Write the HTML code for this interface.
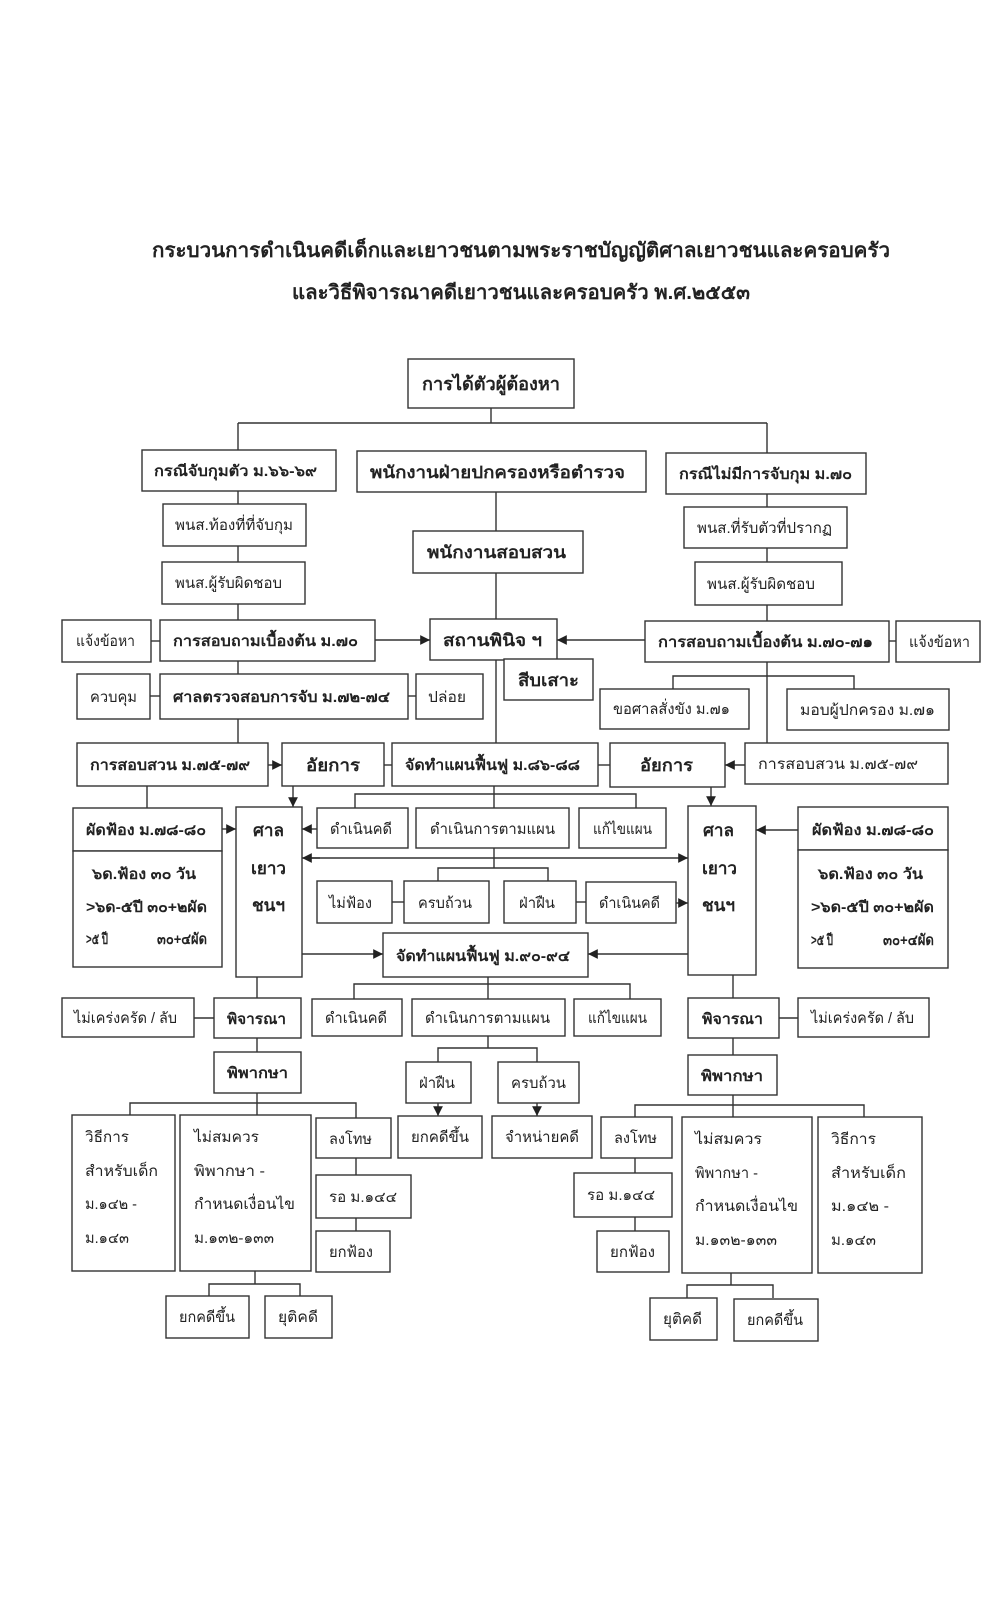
<!DOCTYPE html>
<html><head><meta charset="utf-8"><style>
html,body{margin:0;padding:0;background:#fff;}
svg{display:block;}
text{font-family:"Liberation Sans","DejaVu Sans",sans-serif;fill:#222;}
.b{font-weight:bold;}
rect{fill:#fff;stroke:#333;stroke-width:1.4;}
line,path.l{stroke:#333;stroke-width:1.4;fill:none;}
</style></head><body>
<svg width="1000" height="1620" viewBox="0 0 1000 1620" xmlns="http://www.w3.org/2000/svg">
<defs><marker id="a" viewBox="0 0 10 10" refX="10" refY="5" markerWidth="7" markerHeight="7" orient="auto"><path d="M0,0 L10,5 L0,10 z" fill="#222"/></marker></defs>
<rect x="0" y="0" width="1000" height="1620" style="stroke:none;fill:#fff"/>
<text class="b" x="152" y="257" font-size="20" textLength="738" lengthAdjust="spacingAndGlyphs">กระบวนการดำเนินคดีเด็กและเยาวชนตามพระราชบัญญัติศาลเยาวชนและครอบครัว</text>
<text class="b" x="292" y="299" font-size="20" textLength="458" lengthAdjust="spacingAndGlyphs">และวิธีพิจารณาคดีเยาวชนและครอบครัว พ.ศ.๒๕๕๓</text>

<!-- connectors -->
<g>
<line x1="491" y1="408" x2="491" y2="423"/><line x1="238" y1="423" x2="767" y2="423"/>
<line x1="238" y1="423" x2="238" y2="450"/><line x1="767" y1="423" x2="767" y2="453"/>
<line x1="496" y1="492" x2="496" y2="743"/>
<line x1="238" y1="491" x2="238" y2="743"/>
<line x1="767" y1="494" x2="767" y2="743"/>
<path class="l" d="M673,689 V676 H854 V689"/>
<line x1="151" y1="641" x2="160" y2="641"/><line x1="150" y1="696" x2="160" y2="696"/>
<line x1="408" y1="696" x2="416" y2="696"/><line x1="889" y1="641" x2="896" y2="641"/>
<line x1="375" y1="640" x2="430" y2="640" marker-end="url(#a)"/>
<line x1="645" y1="640" x2="557" y2="640" marker-end="url(#a)"/>
<line x1="268" y1="765" x2="282" y2="765" marker-end="url(#a)"/>
<line x1="384" y1="765" x2="392" y2="765"/><line x1="598" y1="765" x2="610" y2="765"/>
<line x1="745" y1="765" x2="725" y2="765" marker-end="url(#a)"/>
<line x1="147" y1="786" x2="147" y2="809"/>
<line x1="293" y1="786" x2="293" y2="807" marker-end="url(#a)"/>
<line x1="711" y1="787" x2="711" y2="806" marker-end="url(#a)"/>
<line x1="222" y1="829" x2="236" y2="829" marker-end="url(#a)"/>
<line x1="317" y1="829" x2="302" y2="829" marker-end="url(#a)"/>
<line x1="798" y1="830" x2="756" y2="830" marker-end="url(#a)"/>
<line x1="494" y1="786" x2="494" y2="868"/>
<path class="l" d="M355,808 V794 H636 V808"/>
<line x1="310" y1="858" x2="688" y2="858" marker-end="url(#a)"/>
<line x1="320" y1="858" x2="302" y2="858" marker-end="url(#a)"/>
<path class="l" d="M438,881 V868 H548 V881"/>
<line x1="392" y1="902" x2="404" y2="902"/><line x1="576" y1="902" x2="586" y2="902"/>
<line x1="676" y1="903" x2="688" y2="903" marker-end="url(#a)"/>
<line x1="302" y1="954" x2="383" y2="954" marker-end="url(#a)"/>
<line x1="688" y1="954" x2="588" y2="954" marker-end="url(#a)"/>
<line x1="488" y1="977" x2="488" y2="999"/>
<path class="l" d="M354,999 V984 H630 V999"/>
<line x1="257" y1="977" x2="257" y2="1052"/>
<line x1="733" y1="975" x2="733" y2="1055"/>
<line x1="194" y1="1018" x2="214" y2="1018"/><line x1="779" y1="1018" x2="798" y2="1018"/>
<line x1="257" y1="1093" x2="257" y2="1115"/>
<path class="l" d="M130,1115 V1103 H356 V1231"/>
<line x1="255" y1="1271" x2="255" y2="1284"/>
<path class="l" d="M209,1296 V1284 H300 V1296"/>
<line x1="488" y1="1036" x2="488" y2="1048"/>
<path class="l" d="M438,1062 V1048 H537 V1062"/>
<line x1="438" y1="1103" x2="438" y2="1116" marker-end="url(#a)"/>
<line x1="537" y1="1103" x2="537" y2="1116" marker-end="url(#a)"/>
<line x1="733" y1="1095" x2="733" y2="1117"/>
<path class="l" d="M864,1117 V1105 H635 V1231"/>
<line x1="731" y1="1273" x2="731" y2="1285"/>
<path class="l" d="M687,1298 V1285 H773 V1298"/>
</g>

<!-- boxes -->
<g>
<rect x="408" y="359" width="166" height="49"/>
<rect x="142" y="450" width="194" height="41"/>
<rect x="357" y="451" width="289" height="41"/>
<rect x="666" y="453" width="200" height="41"/>
<rect x="163" y="504" width="143" height="42"/>
<rect x="162" y="562" width="143" height="42"/>
<rect x="413" y="531" width="170" height="42"/>
<rect x="684" y="507" width="163" height="41"/>
<rect x="695" y="562" width="147" height="43"/>
<rect x="62" y="620" width="89" height="42"/>
<rect x="160" y="620" width="215" height="41"/>
<rect x="430" y="619" width="127" height="41"/>
<rect x="504" y="659" width="89" height="41"/>
<rect x="645" y="621" width="244" height="41"/>
<rect x="896" y="621" width="84" height="41"/>
<rect x="77" y="674" width="73" height="45"/>
<rect x="160" y="674" width="248" height="45"/>
<rect x="416" y="674" width="67" height="45"/>
<rect x="600" y="689" width="149" height="40"/>
<rect x="787" y="689" width="162" height="41"/>
<rect x="77" y="743" width="191" height="43"/>
<rect x="282" y="743" width="102" height="43"/>
<rect x="392" y="743" width="206" height="43"/>
<rect x="610" y="743" width="115" height="44"/>
<rect x="745" y="743" width="203" height="41"/>
<rect x="73" y="808" width="149" height="43"/>
<rect x="73" y="851" width="149" height="116"/>
<rect x="236" y="807" width="66" height="170"/>
<rect x="317" y="808" width="91" height="40"/>
<rect x="416" y="808" width="153" height="40"/>
<rect x="579" y="808" width="87" height="40"/>
<rect x="688" y="806" width="68" height="169"/>
<rect x="798" y="807" width="150" height="43"/>
<rect x="798" y="850" width="150" height="118"/>
<rect x="317" y="881" width="75" height="42"/>
<rect x="404" y="881" width="85" height="42"/>
<rect x="504" y="881" width="72" height="42"/>
<rect x="586" y="882" width="90" height="41"/>
<rect x="383" y="933" width="205" height="44"/>
<rect x="62" y="998" width="132" height="39"/>
<rect x="214" y="998" width="87" height="40"/>
<rect x="312" y="999" width="90" height="37"/>
<rect x="412" y="999" width="153" height="37"/>
<rect x="574" y="999" width="87" height="37"/>
<rect x="688" y="998" width="91" height="40"/>
<rect x="798" y="998" width="131" height="39"/>
<rect x="214" y="1052" width="87" height="41"/>
<rect x="688" y="1055" width="89" height="40"/>
<rect x="406" y="1062" width="65" height="41"/>
<rect x="498" y="1062" width="81" height="41"/>
<rect x="398" y="1116" width="84" height="42"/>
<rect x="492" y="1116" width="100" height="42"/>
<rect x="72" y="1115" width="103" height="156"/>
<rect x="180" y="1115" width="131" height="156"/>
<rect x="316" y="1118" width="75" height="40"/>
<rect x="316" y="1175" width="95" height="43"/>
<rect x="316" y="1231" width="74" height="41"/>
<rect x="166" y="1296" width="83" height="42"/>
<rect x="265" y="1296" width="67" height="42"/>
<rect x="601" y="1117" width="71" height="41"/>
<rect x="574" y="1173" width="98" height="44"/>
<rect x="597" y="1231" width="72" height="41"/>
<rect x="682" y="1117" width="130" height="156"/>
<rect x="818" y="1117" width="104" height="156"/>
<rect x="650" y="1298" width="67" height="42"/>
<rect x="734" y="1299" width="84" height="42"/>
</g>

<!-- labels -->
<g font-size="15">
<text class="b" x="422" y="390" font-size="18" textLength="138" lengthAdjust="spacingAndGlyphs">การได้ตัวผู้ต้องหา</text>
<text class="b" x="154" y="476" textLength="163" lengthAdjust="spacingAndGlyphs">กรณีจับกุมตัว ม.๖๖-๖๙</text>
<text class="b" x="370" y="478" font-size="17" textLength="255" lengthAdjust="spacingAndGlyphs">พนักงานฝ่ายปกครองหรือตำรวจ</text>
<text class="b" x="679" y="479" textLength="173" lengthAdjust="spacingAndGlyphs">กรณีไม่มีการจับกุม ม.๗๐</text>
<text x="175" y="530" textLength="118" lengthAdjust="spacingAndGlyphs">พนส.ท้องที่ที่จับกุม</text>
<text x="175" y="588" textLength="107" lengthAdjust="spacingAndGlyphs">พนส.ผู้รับผิดชอบ</text>
<text class="b" x="427" y="558" font-size="17" textLength="139" lengthAdjust="spacingAndGlyphs">พนักงานสอบสวน</text>
<text x="697" y="533" textLength="135" lengthAdjust="spacingAndGlyphs">พนส.ที่รับตัวที่ปรากฏ</text>
<text x="707" y="589" textLength="108" lengthAdjust="spacingAndGlyphs">พนส.ผู้รับผิดชอบ</text>
<text x="76" y="646" textLength="59" lengthAdjust="spacingAndGlyphs">แจ้งข้อหา</text>
<text class="b" x="173" y="646" textLength="185" lengthAdjust="spacingAndGlyphs">การสอบถามเบื้องต้น ม.๗๐</text>
<text class="b" x="443" y="646" font-size="17" textLength="99" lengthAdjust="spacingAndGlyphs">สถานพินิจ ฯ</text>
<text class="b" x="518" y="686" font-size="17" textLength="61" lengthAdjust="spacingAndGlyphs">สีบเสาะ</text>
<text class="b" x="658" y="647" textLength="215" lengthAdjust="spacingAndGlyphs">การสอบถามเบื้องต้น ม.๗๐-๗๑</text>
<text x="909" y="647" textLength="61" lengthAdjust="spacingAndGlyphs">แจ้งข้อหา</text>
<text x="90" y="702" textLength="47" lengthAdjust="spacingAndGlyphs">ควบคุม</text>
<text class="b" x="173" y="702" textLength="217" lengthAdjust="spacingAndGlyphs">ศาลตรวจสอบการจับ ม.๗๒-๗๔</text>
<text x="428" y="702" textLength="38" lengthAdjust="spacingAndGlyphs">ปล่อย</text>
<text x="613" y="714" textLength="117" lengthAdjust="spacingAndGlyphs">ขอศาลสั่งขัง ม.๗๑</text>
<text x="800" y="715" textLength="135" lengthAdjust="spacingAndGlyphs">มอบผู้ปกครอง ม.๗๑</text>
<text class="b" x="90" y="770" textLength="160" lengthAdjust="spacingAndGlyphs">การสอบสวน ม.๗๕-๗๙</text>
<text class="b" x="306" y="771" font-size="17" textLength="54" lengthAdjust="spacingAndGlyphs">อัยการ</text>
<text class="b" x="405" y="770" textLength="175" lengthAdjust="spacingAndGlyphs">จัดทำแผนฟื้นฟู ม.๘๖-๘๘</text>
<text class="b" x="640" y="771" font-size="17" textLength="53" lengthAdjust="spacingAndGlyphs">อัยการ</text>
<text x="758" y="769" textLength="160" lengthAdjust="spacingAndGlyphs">การสอบสวน ม.๗๕-๗๙</text>
<text class="b" x="86" y="835" textLength="120" lengthAdjust="spacingAndGlyphs">ผัดฟ้อง ม.๗๘-๘๐</text>
<text class="b" x="92" y="879" textLength="104" lengthAdjust="spacingAndGlyphs">๖ด.ฟ้อง ๓๐ วัน</text>
<text class="b" x="86" y="912" textLength="121" lengthAdjust="spacingAndGlyphs">&gt;๖ด-๕ปี ๓๐+๒ผัด</text>
<text class="b" x="86" y="944" textLength="22" lengthAdjust="spacingAndGlyphs">&gt;๕ ปี</text>
<text class="b" x="157" y="944" textLength="50" lengthAdjust="spacingAndGlyphs">๓๐+๔ผัด</text>
<text class="b" x="253" y="836" font-size="17" textLength="31" lengthAdjust="spacingAndGlyphs">ศาล</text>
<text class="b" x="251" y="874" font-size="17" textLength="35" lengthAdjust="spacingAndGlyphs">เยาว</text>
<text class="b" x="252" y="911" font-size="17" textLength="33" lengthAdjust="spacingAndGlyphs">ชนฯ</text>
<text x="330" y="834" textLength="62" lengthAdjust="spacingAndGlyphs">ดำเนินคดี</text>
<text x="430" y="834" textLength="125" lengthAdjust="spacingAndGlyphs">ดำเนินการตามแผน</text>
<text x="593" y="834" textLength="59" lengthAdjust="spacingAndGlyphs">แก้ไขแผน</text>
<text class="b" x="703" y="836" font-size="17" textLength="31" lengthAdjust="spacingAndGlyphs">ศาล</text>
<text class="b" x="702" y="874" font-size="17" textLength="35" lengthAdjust="spacingAndGlyphs">เยาว</text>
<text class="b" x="702" y="911" font-size="17" textLength="33" lengthAdjust="spacingAndGlyphs">ชนฯ</text>
<text class="b" x="812" y="835" textLength="122" lengthAdjust="spacingAndGlyphs">ผัดฟ้อง ม.๗๘-๘๐</text>
<text class="b" x="818" y="879" textLength="105" lengthAdjust="spacingAndGlyphs">๖ด.ฟ้อง ๓๐ วัน</text>
<text class="b" x="811" y="912" textLength="123" lengthAdjust="spacingAndGlyphs">&gt;๖ด-๕ปี ๓๐+๒ผัด</text>
<text class="b" x="811" y="945" textLength="22" lengthAdjust="spacingAndGlyphs">&gt;๕ ปี</text>
<text class="b" x="883" y="945" textLength="51" lengthAdjust="spacingAndGlyphs">๓๐+๔ผัด</text>
<text x="329" y="908" textLength="43" lengthAdjust="spacingAndGlyphs">ไม่ฟ้อง</text>
<text x="418" y="908" textLength="54" lengthAdjust="spacingAndGlyphs">ครบถ้วน</text>
<text x="519" y="908" textLength="36" lengthAdjust="spacingAndGlyphs">ฝ่าฝืน</text>
<text x="599" y="908" textLength="61" lengthAdjust="spacingAndGlyphs">ดำเนินคดี</text>
<text class="b" x="396" y="961" textLength="174" lengthAdjust="spacingAndGlyphs">จัดทำแผนฟื้นฟู ม.๙๐-๙๔</text>
<text x="74" y="1023" textLength="103" lengthAdjust="spacingAndGlyphs">ไม่เคร่งครัด / ลับ</text>
<text class="b" x="227" y="1024" textLength="59" lengthAdjust="spacingAndGlyphs">พิจารณา</text>
<text x="325" y="1023" textLength="62" lengthAdjust="spacingAndGlyphs">ดำเนินคดี</text>
<text x="425" y="1023" textLength="125" lengthAdjust="spacingAndGlyphs">ดำเนินการตามแผน</text>
<text x="588" y="1023" textLength="59" lengthAdjust="spacingAndGlyphs">แก้ไขแผน</text>
<text class="b" x="702" y="1024" textLength="61" lengthAdjust="spacingAndGlyphs">พิจารณา</text>
<text x="811" y="1023" textLength="103" lengthAdjust="spacingAndGlyphs">ไม่เคร่งครัด / ลับ</text>
<text class="b" x="227" y="1078" textLength="61" lengthAdjust="spacingAndGlyphs">พิพากษา</text>
<text class="b" x="701" y="1081" textLength="62" lengthAdjust="spacingAndGlyphs">พิพากษา</text>
<text x="419" y="1088" textLength="36" lengthAdjust="spacingAndGlyphs">ฝ่าฝืน</text>
<text x="511" y="1088" textLength="55" lengthAdjust="spacingAndGlyphs">ครบถ้วน</text>
<text x="411" y="1142" textLength="58" lengthAdjust="spacingAndGlyphs">ยกคดีขึ้น</text>
<text x="505" y="1142" textLength="74" lengthAdjust="spacingAndGlyphs">จำหน่ายคดี</text>
<text x="85" y="1142" textLength="44" lengthAdjust="spacingAndGlyphs">วิธีการ</text>
<text x="85" y="1176" textLength="73" lengthAdjust="spacingAndGlyphs">สำหรับเด็ก</text>
<text x="85" y="1209" textLength="52" lengthAdjust="spacingAndGlyphs">ม.๑๔๒ -</text>
<text x="85" y="1243" textLength="44" lengthAdjust="spacingAndGlyphs">ม.๑๔๓</text>
<text x="194" y="1142" textLength="65" lengthAdjust="spacingAndGlyphs">ไม่สมควร</text>
<text x="194" y="1176" textLength="71" lengthAdjust="spacingAndGlyphs">พิพากษา -</text>
<text x="194" y="1209" textLength="101" lengthAdjust="spacingAndGlyphs">กำหนดเงื่อนไข</text>
<text x="194" y="1243" textLength="80" lengthAdjust="spacingAndGlyphs">ม.๑๓๒-๑๓๓</text>
<text x="329" y="1144" textLength="43" lengthAdjust="spacingAndGlyphs">ลงโทษ</text>
<text x="329" y="1202" textLength="68" lengthAdjust="spacingAndGlyphs">รอ ม.๑๔๔</text>
<text x="329" y="1257" textLength="44" lengthAdjust="spacingAndGlyphs">ยกฟ้อง</text>
<text x="179" y="1322" textLength="56" lengthAdjust="spacingAndGlyphs">ยกคดีขึ้น</text>
<text x="278" y="1322" textLength="40" lengthAdjust="spacingAndGlyphs">ยุติคดี</text>
<text x="614" y="1143" textLength="43" lengthAdjust="spacingAndGlyphs">ลงโทษ</text>
<text x="587" y="1200" textLength="68" lengthAdjust="spacingAndGlyphs">รอ ม.๑๔๔</text>
<text x="610" y="1257" textLength="45" lengthAdjust="spacingAndGlyphs">ยกฟ้อง</text>
<text x="695" y="1144" textLength="67" lengthAdjust="spacingAndGlyphs">ไม่สมควร</text>
<text x="695" y="1178" textLength="63" lengthAdjust="spacingAndGlyphs">พิพากษา -</text>
<text x="695" y="1211" textLength="103" lengthAdjust="spacingAndGlyphs">กำหนดเงื่อนไข</text>
<text x="695" y="1245" textLength="82" lengthAdjust="spacingAndGlyphs">ม.๑๓๒-๑๓๓</text>
<text x="831" y="1144" textLength="45" lengthAdjust="spacingAndGlyphs">วิธีการ</text>
<text x="831" y="1178" textLength="75" lengthAdjust="spacingAndGlyphs">สำหรับเด็ก</text>
<text x="831" y="1211" textLength="58" lengthAdjust="spacingAndGlyphs">ม.๑๔๒ -</text>
<text x="831" y="1245" textLength="45" lengthAdjust="spacingAndGlyphs">ม.๑๔๓</text>
<text x="663" y="1324" textLength="39" lengthAdjust="spacingAndGlyphs">ยุติคดี</text>
<text x="747" y="1325" textLength="56" lengthAdjust="spacingAndGlyphs">ยกคดีขึ้น</text>
</g>
</svg>
</body></html>
